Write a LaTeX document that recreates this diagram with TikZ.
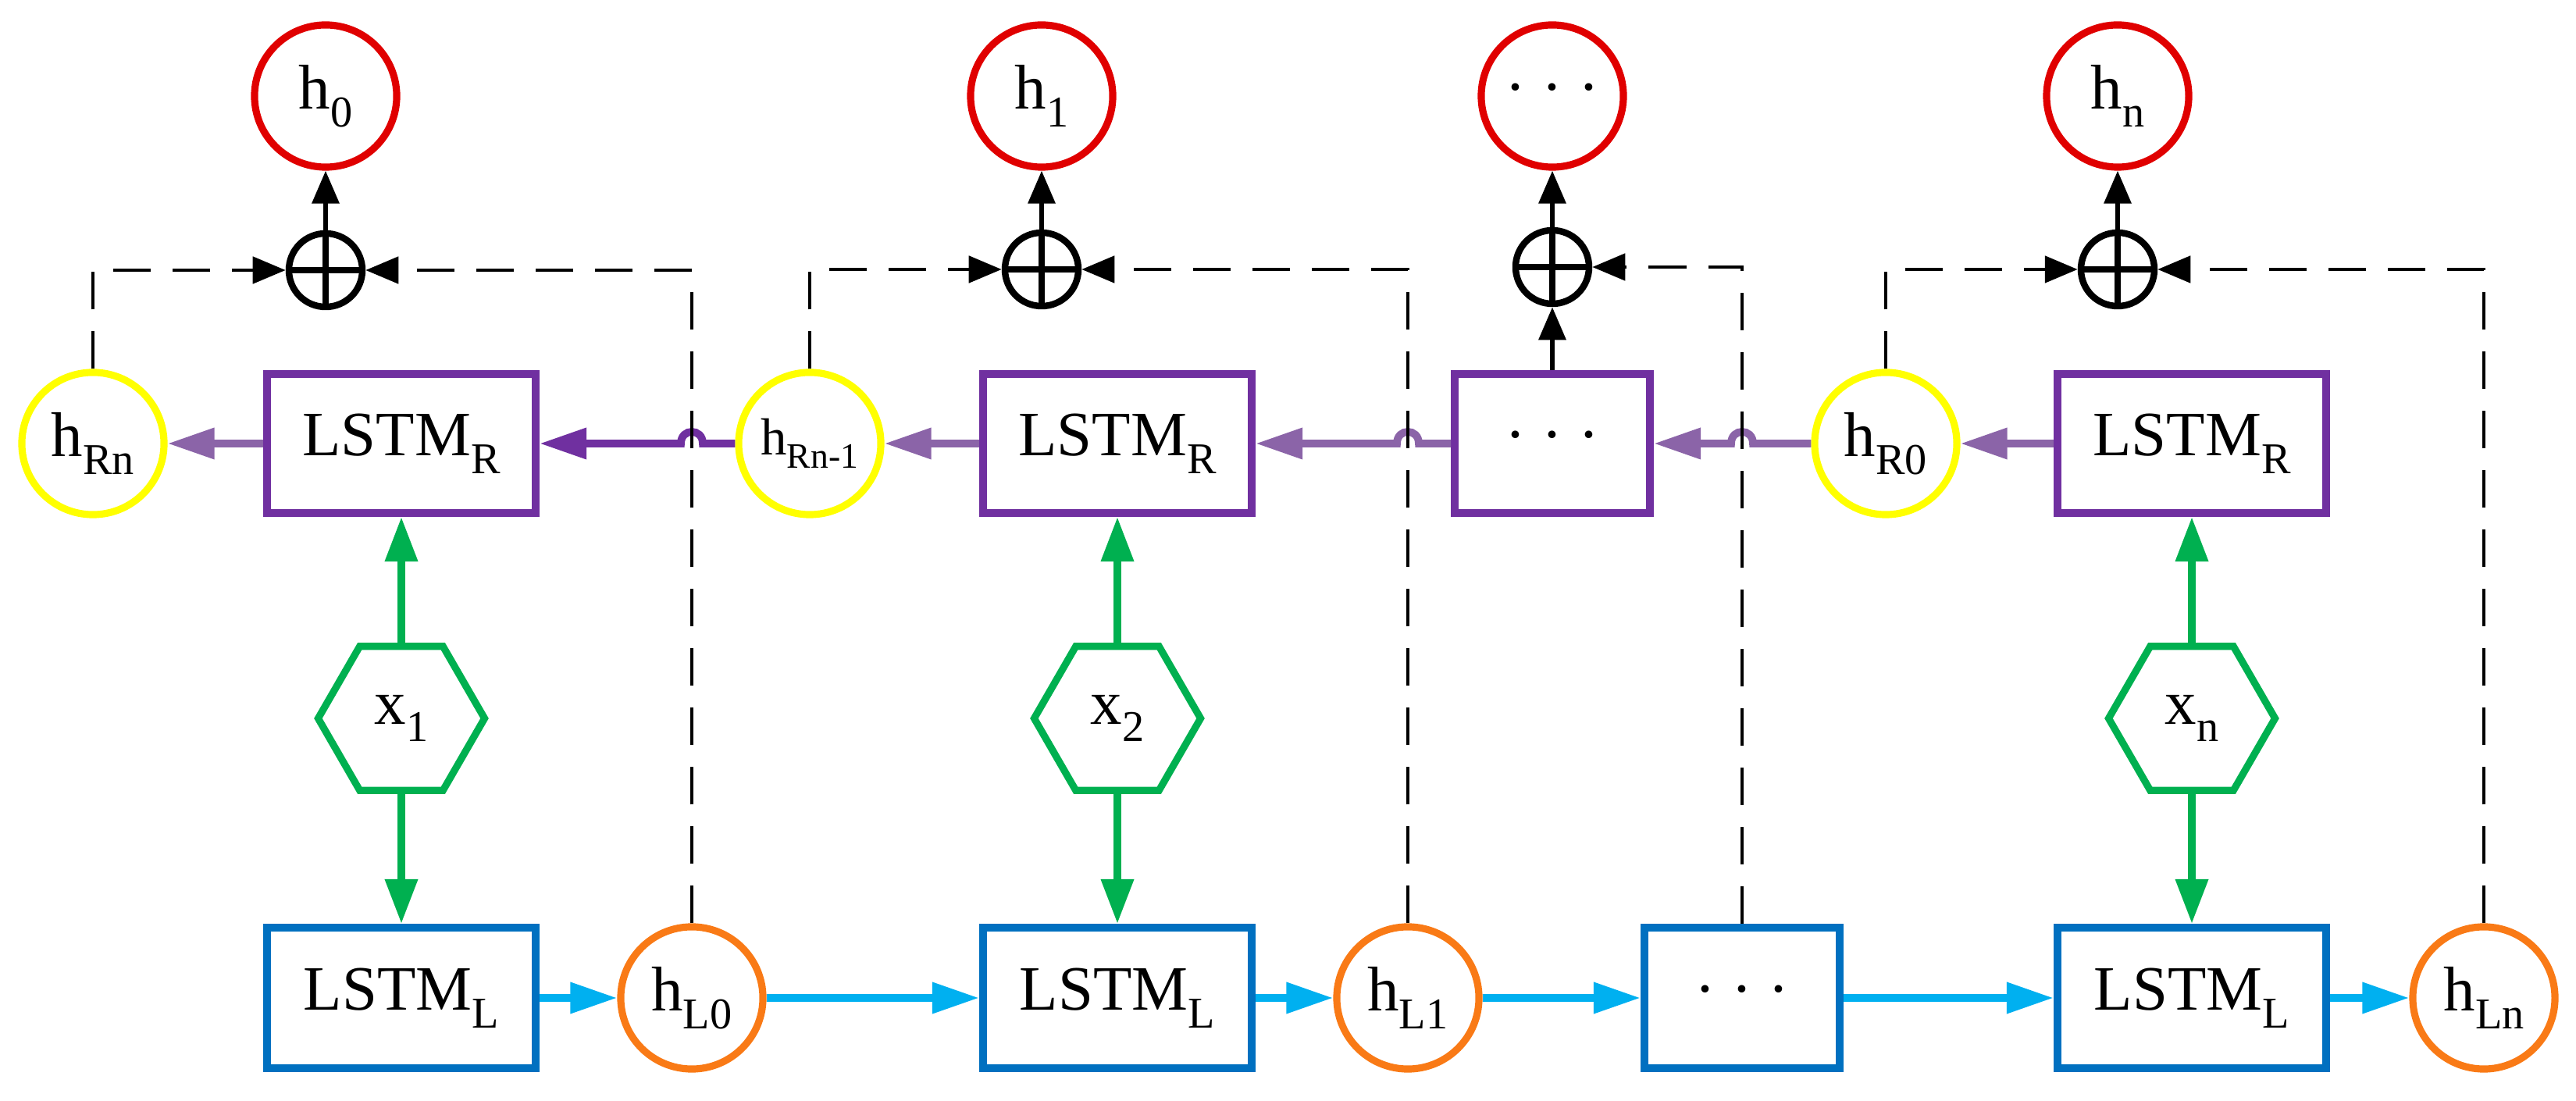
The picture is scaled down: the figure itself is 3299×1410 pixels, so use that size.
\documentclass[tikz,border=0pt]{standalone}
\usepackage{fontspec}
\setmainfont{Liberation Serif}
\usetikzlibrary{arrows.meta,shapes.geometric}
\definecolor{cred}{HTML}{E00000}
\definecolor{cyel}{HTML}{FFFF00}
\definecolor{corg}{HTML}{F97A16}
\definecolor{cpur}{HTML}{7030A0}
\definecolor{clpur}{HTML}{8B64A8}
\definecolor{cblue}{HTML}{0070C0}
\definecolor{ccyan}{HTML}{00B0F0}
\definecolor{cgreen}{HTML}{00B050}
\newcommand\sbs[1]{\raisebox{-0.28em}{\fontsize{16}{16}\selectfont #1}}
\newcommand\sbt[1]{\raisebox{-0.25em}{\fontsize{13}{13}\selectfont #1}}
\tikzset{
  every node/.style={font=\fontsize{23}{26}\selectfont, inner sep=0pt},
  circ/.style={circle, draw, line width=2.6pt, minimum size=1.82cm},
  boxR/.style={rectangle, draw=cpur, line width=2.8pt, minimum width=3.44cm, minimum height=1.78cm},
  boxL/.style={rectangle, draw=cblue, line width=2.8pt, minimum width=3.44cm, minimum height=1.8cm},
  hex/.style={regular polygon, regular polygon sides=6, draw=cgreen, line width=2.6pt, minimum size=2.13cm},
  oplus/.style={circle, draw, line width=2.4pt, minimum size=0.94cm, path picture={
     \draw[line width=2.4pt] (path picture bounding box.north) -- (path picture bounding box.south)
        (path picture bounding box.west) -- (path picture bounding box.east);}},
  dsh/.style={draw, line width=1.4pt, dash pattern=on 0.48cm off 0.28cm, -{Triangle[length=0.42cm,width=0.34cm]}},
  blk/.style={draw, line width=1.8pt, -{Triangle[length=0.42cm,width=0.34cm]}},
  grn/.style={draw=cgreen, line width=2.8pt, -{Triangle[length=0.57cm,width=0.4cm]}},
  cyn/.style={draw=ccyan, line width=2.8pt, -{Triangle[length=0.6cm,width=0.38cm]}},
  prp/.style={draw=clpur, line width=2.8pt, -{Triangle[length=0.6cm,width=0.38cm]}},
  dprp/.style={draw=cpur, line width=2.8pt, -{Triangle[length=0.6cm,width=0.38cm]}},
}
\begin{document}
\begin{tikzpicture}[x=0.01cm,y=-0.01cm]
\useasboundingbox (0,0) rectangle (3299,1410);
\node[circ,draw=cred] (o0) at (417,123) {h\sbs{0}};
\node[circ,draw=cred] (o1) at (1334,123) {h\sbs{1}};
\node[circ,draw=cred] (o2) at (1988,123) {· · ·};
\node[circ,draw=cred] (o3) at (2712,123) {h\sbs{n}};
\node[oplus] (p0) at (417,346) {};
\node[oplus] (p1) at (1334,345) {};
\node[oplus] (p2) at (1988,342) {};
\node[oplus] (p3) at (2712,345) {};
\node[circ,draw=cyel] (hRn) at (119,568) {h\sbs{Rn}};
\node[boxR] (R1) at (514,568) {LSTM\sbs{R}};
\node[circ,draw=cyel] (hRn1) at (1037,568) {\fontsize{19}{22}\selectfont h\sbt{Rn-1}};
\node[boxR] (R2) at (1431,568) {LSTM\sbs{R}};
\node[boxR,minimum width=2.5cm] (R3d) at (1988,568) {· · ·};
\node[circ,draw=cyel] (hR0) at (2415,568) {h\sbs{R0}};
\node[boxR] (R3) at (2807,568) {LSTM\sbs{R}};
\node[hex] (x1) at (514,920) {x\sbs{1}};
\node[hex] (x2) at (1431,920) {x\sbs{2}};
\node[hex] (xn) at (2807,920) {x\sbs{n}};
\node[boxL] (L1) at (514,1278) {LSTM\sbs{L}};
\node[circ,draw=corg] (hL0) at (886,1278) {h\sbs{L0}};
\node[boxL] (L2) at (1431,1278) {LSTM\sbs{L}};
\node[circ,draw=corg] (hL1) at (1803,1278) {h\sbs{L1}};
\node[boxL,minimum width=2.5cm] (L3d) at (2231,1278) {· · ·};
\node[boxL] (L3) at (2807,1278) {LSTM\sbs{L}};
\node[circ,draw=corg] (hLn) at (3181,1278) {h\sbs{Ln}};
\draw[grn] (x1.north) -- (R1.south);
\draw[grn] (x1.south) -- (L1.north);
\draw[grn] (x2.north) -- (R2.south);
\draw[grn] (x2.south) -- (L2.north);
\draw[grn] (xn.north) -- (R3.south);
\draw[grn] (xn.south) -- (L3.north);
\draw[cyn] (L1) -- (hL0);
\draw[cyn] (hL0) -- (L2);
\draw[cyn] (L2) -- (hL1);
\draw[cyn] (hL1) -- (L3d);
\draw[cyn] (L3d) -- (L3);
\draw[cyn] (L3) -- (hLn);
\draw[prp] (R1) -- (hRn);
\draw[dprp] (hRn1.west) -- (900,568) .. controls (900,548) and (872,548) .. (872,568) -- (R1.east);
\draw[prp] (R2) -- (hRn1);
\draw[prp] (R3d.west) -- (1817,568) .. controls (1817,548) and (1789,548) .. (1789,568) -- (R2.east);
\draw[prp] (hR0.west) -- (2245,568) .. controls (2245,548) and (2217,548) .. (2217,568) -- (R3d.east);
\draw[prp] (R3) -- (hR0);
\draw[blk] (p0) -- (o0);
\draw[blk] (p1) -- (o1);
\draw[blk] (p2) -- (o2);
\draw[blk] (p3) -- (o3);
\draw[blk] (R3d) -- (p2);
\draw[dsh] (hRn.north) |- (p0.west);
\draw[dsh] (hL0.north) |- (p0.east);
\draw[dsh] (hRn1.north) |- (p1.west);
\draw[dsh] (hL1.north) |- (p1.east);
\draw[dsh] (L3d.north) |- (p2.east);
\draw[dsh] (hR0.north) |- (p3.west);
\draw[dsh] (hLn.north) |- (p3.east);
\end{tikzpicture}
\end{document}
